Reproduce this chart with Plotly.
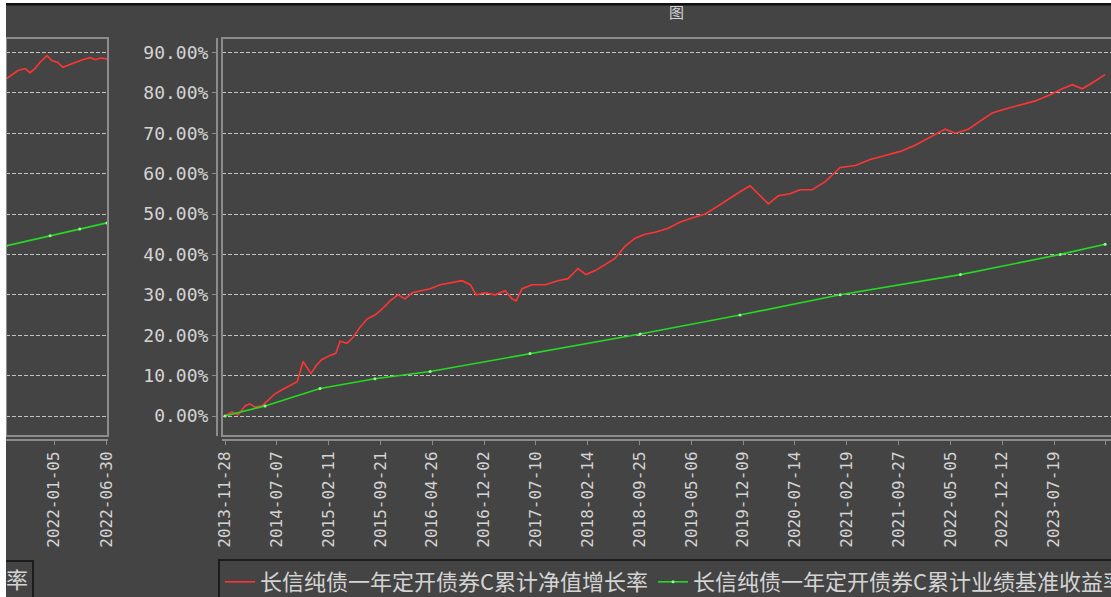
import plotly.graph_objects as go

# ---------------- data ----------------
# main chart: trading-day index vs. cumulative return (%)
nav_idx = [0, 20, 38, 58, 72, 87, 107, 125, 145, 165, 188, 209, 226, 237, 249, 264, 281, 304, 321, 333,
           353, 371, 391, 411, 434, 455, 478, 501, 521, 542, 565, 594, 623, 652, 686, 710, 727, 753, 782,
           811, 831, 843, 860, 889, 927, 964, 993, 1022, 1045, 1072, 1100, 1129, 1158, 1187, 1216, 1245,
           1283, 1318, 1352, 1390, 1428, 1462, 1491, 1520, 1544, 1573, 1602, 1636, 1665, 1700, 1738, 1781,
           1825, 1868, 1911, 1955, 1998, 2042, 2085, 2114, 2152, 2186, 2221, 2259, 2302, 2346, 2389, 2424,
           2453, 2482, 2511, 2548]
nav_growth = [0.0, 1.0, 0.3, 2.5, 3.0, 2.2, 2.5, 4.0, 5.5, 6.5, 7.5, 8.5, 13.5, 12.0, 10.5, 12.5, 14.0,
              15.0, 15.5, 18.5, 18.0, 19.5, 22.0, 24.0, 25.0, 26.5, 28.5, 30.0, 29.0, 30.5, 31.0, 31.5,
              32.5, 33.0, 33.5, 32.5, 30.0, 30.5, 30.0, 31.0, 29.0, 28.5, 31.5, 32.5, 32.5, 33.5, 34.0,
              36.5, 35.0, 36.0, 37.5, 39.0, 42.0, 44.0, 45.0, 45.5, 46.5, 48.0, 49.0, 50.0, 52.0, 54.0,
              55.5, 57.0, 55.0, 52.5, 54.5, 55.0, 56.0, 56.0, 58.0, 61.5, 62.0, 63.5, 64.5, 65.5, 67.0,
              69.0, 71.0, 70.0, 71.0, 73.0, 75.0, 76.0, 77.0, 78.0, 79.5, 81.0, 82.0, 81.0, 82.5, 84.5]

bench_idx = [0, 116, 275, 434, 594, 883, 1202, 1491, 1781, 2129, 2418, 2548]
bench_growth = [0.0, 2.5, 6.8, 9.2, 11.0, 15.5, 20.3, 25.0, 30.0, 35.0, 40.0, 42.5]

tick_idx = [0, 150, 300, 450, 600, 750, 900, 1050, 1200, 1350, 1500, 1650, 1800, 1950, 2100, 2250,
            2400, 2550]
tick_labels = ["2013-11-28", "2014-07-07", "2015-02-11", "2015-09-21", "2016-04-26", "2016-12-02",
               "2017-07-10", "2018-02-14", "2018-09-25", "2019-05-06", "2019-12-09", "2020-07-14",
               "2021-02-19", "2021-09-27", "2022-05-05", "2022-12-12", "2023-07-19", "2024-02-23"]

y_ticks = [0, 10, 20, 30, 40, 50, 60, 70, 80, 90]
y_tick_labels = [f"{v:.2f}%" for v in y_ticks]

# left (partially visible) chart
left_nav_idx = [2114, 2131, 2148, 2168, 2182, 2196, 2210, 2230, 2244, 2261, 2275, 2295, 2315, 2335,
                2352, 2369, 2380, 2400]
left_nav = [83.4, 84.5, 85.5, 86.0, 85.0, 86.0, 87.5, 89.2, 88.0, 87.5, 86.3, 87.0, 87.7, 88.3, 88.7,
            88.2, 88.6, 88.4]
left_bench_idx = [2114, 2239, 2323, 2400]
left_bench = [42.1, 44.6, 46.3, 47.8]
left_tick_idx = [2250, 2400]
left_tick_labels = ["2022-01-05", "2022-06-30"]

name_nav = "长信纯债一年定开债券C累计净值增长率"
name_bench = "长信纯债一年定开债券C累计业绩基准收益率"

# ---------------- styling ----------------
W, H = 1111, 597
BG = "#444444"
TXT = "#d4d4d4"
FRAME = "#8c8c8c"
GRID = "#c4c4c4"
RED = "#ff3535"
GREEN = "#25d925"
MONO = "DejaVu Sans Mono"
CJK = "Noto Sans CJK SC"


def fx(p):
    return p / W


def fy(p):
    return 1 - p / H


fig = go.Figure()

fig.add_trace(go.Scatter(x=nav_idx, y=nav_growth, mode="lines", name=name_nav,
                         line=dict(color=RED, width=1.6), xaxis="x", yaxis="y"))
fig.add_trace(go.Scatter(x=bench_idx, y=bench_growth, mode="lines+markers", name=name_bench,
                         line=dict(color=GREEN, width=1.6),
                         marker=dict(size=3, color="#8cff8c"), xaxis="x", yaxis="y"))
fig.add_trace(go.Scatter(x=left_nav_idx, y=left_nav, mode="lines", showlegend=False,
                         line=dict(color=RED, width=1.6), xaxis="x2", yaxis="y2"))
fig.add_trace(go.Scatter(x=left_bench_idx, y=left_bench, mode="lines+markers", showlegend=False,
                         line=dict(color=GREEN, width=1.6),
                         marker=dict(size=3, color="#8cff8c"), xaxis="x2", yaxis="y2"))

y_dom = [fy(436), fy(38)]
y_range = [(416 - 436) / 4.04, (416 - 38) / 4.04]
x_axis_pos = fy(440)

shapes = [
    # plot frames
    dict(type="rect", xref="paper", yref="paper", x0=fx(222), x1=fx(1125), y0=fy(436), y1=fy(38),
         line=dict(color=FRAME, width=2), fillcolor="rgba(0,0,0,0)", layer="above"),
    dict(type="rect", xref="paper", yref="paper", x0=fx(6), x1=fx(108), y0=fy(436), y1=fy(38),
         line=dict(color=FRAME, width=2), fillcolor="rgba(0,0,0,0)", layer="above"),
    # left legend remnant box
    dict(type="rect", xref="paper", yref="paper", x0=fx(-4), x1=fx(33), y0=fy(600), y1=fy(561),
         line=dict(color="#1c1c1c", width=2), fillcolor="rgba(0,0,0,0)"),
    # white page edges and top black rule
    dict(type="rect", xref="paper", yref="paper", x0=fx(-5), x1=fx(6), y0=-0.02, y1=1.02,
         line=dict(width=0), fillcolor="#ffffff", layer="above"),
    dict(type="rect", xref="paper", yref="paper", x0=fx(-5), x1=fx(1120), y0=fy(3), y1=1.02,
         line=dict(width=0), fillcolor="#ffffff", layer="above"),
    dict(type="rect", xref="paper", yref="paper", x0=fx(6), x1=fx(1120), y0=fy(5.5), y1=fy(3),
         line=dict(width=0), fillcolor="#111111", layer="above"),
]

annotations = [
    dict(text="图", xref="paper", yref="paper", x=fx(677), y=fy(11), showarrow=False,
         xanchor="center", yanchor="middle",
         font=dict(family=CJK, size=15, color=TXT)),
    dict(text="率", xref="paper", yref="paper", x=fx(17), y=fy(578), showarrow=False,
         xanchor="center", yanchor="middle",
         font=dict(family=CJK, size=22, color=TXT)),
]

fig.update_layout(
    width=W, height=H,
    margin=dict(l=0, r=0, t=0, b=0, autoexpand=False),
    paper_bgcolor=BG, plot_bgcolor=BG,
    showlegend=True,
    legend=dict(orientation="h", x=fx(218), y=fy(559), xanchor="left", yanchor="top",
                bgcolor=BG, bordercolor="#1c1c1c", borderwidth=2,
                font=dict(family=CJK, size=22, color=TXT),
                itemwidth=30, tracegroupgap=0),
    xaxis=dict(domain=[fx(222), 1.0], range=[-8.7, 2565], anchor="free", position=x_axis_pos,
               showline=True, linecolor=FRAME, linewidth=2, showgrid=False, zeroline=False,
               tickmode="array", tickvals=tick_idx, ticktext=tick_labels, tickangle=-90,
               ticks="outside", ticklen=4, tickcolor=FRAME,
               tickfont=dict(family=MONO, size=16, color=TXT)),
    yaxis=dict(domain=y_dom, range=y_range, anchor="free", position=fx(217),
               showline=True, linecolor=FRAME, linewidth=2, zeroline=False,
               tickmode="array", tickvals=y_ticks, ticktext=y_tick_labels,
               ticks="outside", ticklen=4, tickcolor=FRAME,
               tickfont=dict(family=MONO, size=18, color=TXT),
               showgrid=True, gridcolor=GRID, gridwidth=1, griddash="4px,2px"),
    xaxis2=dict(domain=[fx(6), fx(108)], range=[2114, 2403], anchor="free", position=x_axis_pos,
                showline=True, linecolor=FRAME, linewidth=2, showgrid=False, zeroline=False,
                tickmode="array", tickvals=left_tick_idx, ticktext=left_tick_labels, tickangle=-90,
                ticks="outside", ticklen=4, tickcolor=FRAME,
                tickfont=dict(family=MONO, size=16, color=TXT)),
    yaxis2=dict(domain=y_dom, range=y_range, anchor="x2", showticklabels=False, zeroline=False,
                tickmode="array", tickvals=y_ticks,
                showgrid=True, gridcolor=GRID, gridwidth=1, griddash="4px,2px"),
    shapes=shapes,
    annotations=annotations,
)

fig.write_html("out.html", config={"displayModeBar": False},
               post_script="document.body.style.margin='0';")
